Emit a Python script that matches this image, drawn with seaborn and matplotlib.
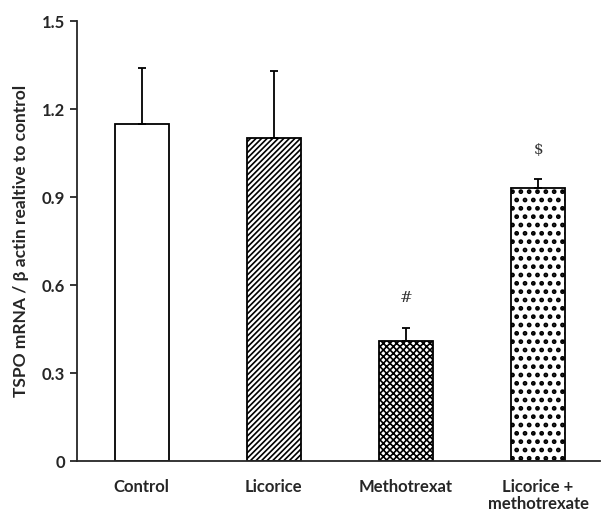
import numpy as np
import pandas as pd
import matplotlib
matplotlib.use('Agg')
import matplotlib.pyplot as plt
import seaborn as sns

groups = ['Control', 'Licorice', 'Methotrexat', 'Licorice +\nmethotrexate']
means = [1.15, 1.10, 0.41, 0.93]
errs = [0.19, 0.23, 0.045, 0.03]
hatches = ['', '//////', 'xxxxx', '..']
hatch_lw = [1.0, 1.2, 1.2, 2.2]
marks = ['', '', '#', '$']

sns.set_style('ticks')
plt.rcParams['font.family'] = ['Lato', 'DejaVu Sans']
plt.rcParams['hatch.linewidth'] = 1.2

df = pd.DataFrame({'group': groups, 'value': means})

fig = plt.figure(figsize=(6.02, 5.14), dpi=100)
ax = fig.add_axes([0.128, 0.103, 0.869, 0.856])

sns.barplot(data=df, x='group', y='value', color='white', edgecolor='black',
            linewidth=1.3, width=0.405, errorbar=None, ax=ax)
for p, h, lw in zip(ax.patches, hatches, hatch_lw):
    p.set_hatch(h)
    p.set_facecolor('white')
    if hasattr(p, 'set_hatch_linewidth'):
        p.set_hatch_linewidth(lw)

x = np.arange(len(groups))
ax.errorbar(x, means, yerr=[np.zeros(len(errs)), errs], fmt='none',
            ecolor='black', elinewidth=1.3, capsize=3, capthick=1.3)

for i, m in enumerate(marks):
    if m:
        ax.text(x[i], means[i] + errs[i] + 0.1, m, ha='center', va='center',
                fontsize=11, color='#333333', family=['DejaVu Serif'])

ax.set_ylim(0, 1.5)
ax.set_xlim(-0.49, 3.47)
ax.set_yticks([0, 0.3, 0.6, 0.9, 1.2, 1.5])
ax.set_yticklabels(['0', '0.3', '0.6', '0.9', '1.2', '1.5'])
ax.tick_params(axis='y', direction='out', length=5, width=1.3, labelsize=12)
ax.tick_params(axis='x', length=0, labelsize=12, pad=13)
for lab in ax.get_xticklabels() + ax.get_yticklabels():
    lab.set_fontweight('bold')
    lab.set_linespacing(1.1)
ax.set_xlabel('')
ax.set_ylabel('TSPO mRNA / \u03b2 actin realtive to control', fontsize=12.5,
              fontweight='bold', labelpad=9)
sns.despine(ax=ax)
ax.spines['left'].set_linewidth(1.3)
ax.spines['bottom'].set_linewidth(1.3)

fig.savefig('out.png', dpi=100)
